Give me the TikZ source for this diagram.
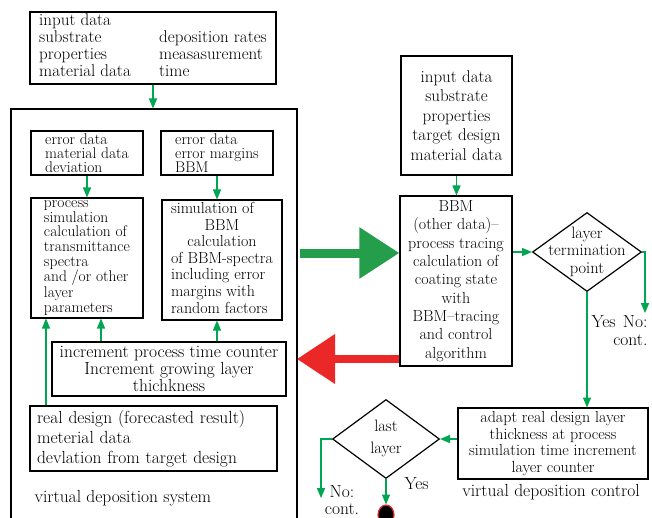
\documentclass[tikz,border=0pt]{standalone}
\usetikzlibrary{arrows,arrows.meta,shapes.geometric}
\definecolor{flowgreen}{RGB}{0,166,81}
\definecolor{biggreen}{RGB}{36,158,74}
\definecolor{bigred}{RGB}{234,40,40}
\begin{document}
\begin{tikzpicture}[x=1pt,y=-1pt,
every node/.style={font=\fontsize{17.5}{17}\selectfont},
box/.style={draw,line width=1.2pt,inner sep=0pt},
choice/.style={draw,diamond,line width=1.2pt,inner sep=0pt},
flow/.style={-{triangle 45},color=flowgreen,line width=1.3pt},
bigflow/.style={line width=9pt,-{Triangle[length=40pt,width=49pt]}}
]
\path[use as bounding box,clip](0,0)rectangle(652,517);
% virtual deposition system
\node[box,minimum width=246pt,minimum height=72pt,
font=\fontsize{17}{17}\selectfont]at(153,48)(input){%
\begin{tabular}{@{}p{120pt}@{}l@{}}
input data&\\
substrate&deposition rates\\
properties&measasurement\\
material data&time
\end{tabular}};
\node[box,minimum width=286pt,minimum height=430pt]at(154,324)(sys){};
\node[box,minimum width=112pt,minimum height=44pt,align=left,
font=\fontsize{15.5}{14.3}\selectfont]at(87,153)(errmat){error data\\material data\\deviation};
\node[box,minimum width=112pt,minimum height=44pt,align=left,
font=\fontsize{15.5}{14.3}\selectfont]at(217,153)(errbbm){error data\\error margins\\BBM};
\node[box,minimum width=112pt,minimum height=120pt,align=left,
font=\fontsize{15.5}{14.6}\selectfont]at(87,258)(proc){process\\simulation\\calculation of\\transmittance\\spectra\\and /or other\\layer\\parameters};
\node[box,minimum width=120pt,minimum height=120pt,
font=\fontsize{16}{16.6}\selectfont]at(222,260)(sim){%
\begin{tabular}{@{}l@{}}
simulation of\\
\multicolumn{1}{@{}c@{}}{BBM}\\
\multicolumn{1}{@{}c@{}}{calculation}\\
of BBM-spectra\\
including error\\
margins with\\
random factors
\end{tabular}};
\node[box,minimum width=234pt,minimum height=54pt,align=center]at(169,369)(incr){increment process time counter\\Increment growing layer\\thichkness};
\node[box,text width=233pt,inner xsep=7pt,minimum height=65pt,align=left,
font=\fontsize{17.5}{20}\selectfont]at(153.5,438.5)(real){real design (forecasted result)\\meterial data\\devlation from target design};
\node[anchor=west]at(31,498)(vdsys){virtual deposition system};
% virtual deposition control
\node[box,minimum width=111pt,minimum height=119pt,align=center,
font=\fontsize{17}{19.5}\selectfont]at(456.5,115.5)(target){input data\\substrate\\properties\\target design\\material data};
\node[box,minimum width=112pt,minimum height=170pt,align=center,
font=\fontsize{16}{18.3}\selectfont]at(456,281)(bbm){BBM\\(other data)--\\process tracing\\calculation of\\coating state\\with\\BBM--tracing\\and control\\algorithm};
\node[choice,minimum width=109pt,minimum height=79pt,
font=\fontsize{16.5}{17.5}\selectfont]at(587,252)(term){\makebox[0pt]{\begin{tabular}{@{}c@{}}layer\\termination\\point\end{tabular}}};
\node[box,minimum width=190pt,minimum height=71pt,align=center,
font=\fontsize{16}{16.7}\selectfont]at(553,443.5)(adapt){adapt real design layer\\thickness at process\\simulation time increment\\layer counter};
\node at(551,492)(vdctrl){virtual deposition control};
\node[choice,minimum width=107pt,minimum height=79pt,
font=\fontsize{16.5}{17}\selectfont]at(386,439)(last){\makebox[0pt]{\begin{tabular}{@{}c@{}}last\\[5pt]layer\end{tabular}}};
\node[draw=bigred,fill=black,ellipse,line width=1.2pt,minimum width=16pt,minimum height=20pt,inner sep=0pt]at(386,515)(stop){};
\coordinate(tno)at(645,313);
\coordinate(lno)at(321,498);
\coordinate(gin)at(300,253);
\coordinate(rout)at(297,359);
\node[anchor=west]at(588,322)(tyes){Yes};
\node[anchor=east,align=right,font=\fontsize{17.5}{18}\selectfont]at(651,331)(tnocont){No:\\cont.};
\node[anchor=west]at(401,484)(lyes){Yes};
\node[align=center]at(342,500)(lnocont){No:\\cont.};
% connectors
\draw[flow](input.south)--(input.south|-sys.north);
\draw[flow](errmat.south)--(proc.north);
\draw[flow](errbbm.south)--(errbbm.south|-sim.north);
\draw[flow]([xshift=-68pt]incr.north)--([xshift=14pt]proc.south);
\draw[flow]([xshift=48pt]incr.north)--([xshift=-5pt]sim.south);
\draw[flow]([xshift=-107.5pt]real.north)--([xshift=-41pt]proc.south);
\draw[flow](target.south)--(target.south|-bbm.north);
\draw[flow](bbm.east|-term.west)--(term.west);
\draw[flow](term.east)-|(tno);
\draw[flow](term.south)--(term.south|-adapt.north);
\draw[flow](adapt.west|-last.east)--(last.east);
\draw[flow](last.west)-|(lno);
\draw[flow](last.south)--(stop.north);
\draw[bigflow,biggreen](gin)--(bbm.west|-gin);
\draw[bigflow,bigred,line width=7.5pt,-{Triangle[length=38pt,width=48pt]}](bbm.west|-rout)--(rout);
\end{tikzpicture}
\end{document}
